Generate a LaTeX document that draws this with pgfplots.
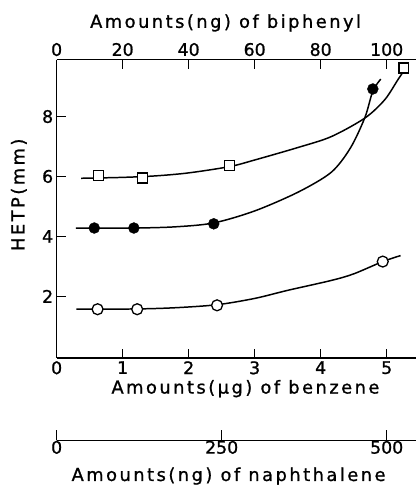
\documentclass[border=0pt]{standalone}
\usepackage{fontspec}
\setmainfont{DejaVu Sans}[FakeBold=1]
\newfontfamily\lsfont{DejaVu Sans}[LetterSpace=14, FakeBold=1]
\usepackage{pgfplots}
\pgfplotsset{compat=1.18}

\pgfplotsset{
  base/.style={scale only axis, width=362bp, clip=false,
    /pgf/number format/assume math mode=true,
    ticklabel style={font=\fontsize{17.5}{20}\selectfont},
    axis line style={line width=1.5bp},
    major tick style={line width=1.4bp, black},
    major tick length=9bp},
  curve/.style={black, line width=1.5bp, smooth, no marks},
}

\begin{document}
\begin{tikzpicture}
% benzene (bottom) and HETP axis
\begin{axis}[base, height=300bp, at={(0,0)}, anchor=south west,
  xmin=0, xmax=5.45, ymin=-0.05, ymax=9.9,
  axis x line*=bottom, axis y line*=left, tick align=inside,
  xtick={0,1,2,3,4,5}, ytick={2,4,6,8}]
% fitted curves
\addplot[curve] coordinates {
  (0.37,5.94)(1.0,5.97)(1.5,6.02)(2.0,6.12)(2.62,6.33)(3.0,6.55)
  (3.66,6.97)(4.16,7.33)(4.67,7.95)(4.97,8.56)(5.17,9.23)(5.32,9.72)};
\addplot[curve] coordinates {
  (0.29,4.28)(1.17,4.28)(1.8,4.32)(2.38,4.45)(3.0,4.85)(3.66,5.48)
  (4.16,6.14)(4.45,6.95)(4.67,7.97)(4.79,8.85)(4.91,9.25)};
\addplot[curve] coordinates {
  (0.30,1.57)(1.22,1.58)(1.8,1.62)(2.43,1.72)(3.0,1.93)(3.5,2.2)
  (4.16,2.53)(4.5,2.75)(4.94,3.16)(5.21,3.36)};
% measured points
\addplot[only marks, mark=square*, mark size=5bp, mark options={fill=white, draw=black, line width=1.3bp}]
  coordinates {(0.63,6.03)(1.30,5.95)(2.62,6.37)(5.26,9.62)};
\addplot[only marks, mark=*, mark size=5.5bp, mark options={fill=black, draw=black}]
  coordinates {(0.57,4.28)(1.17,4.28)(2.38,4.42)(4.79,8.92)};
\addplot[only marks, mark=*, mark size=5.5bp, mark options={fill=white, draw=black, line width=1.3bp}]
  coordinates {(0.62,1.57)(1.22,1.57)(2.43,1.70)(4.94,3.16)};
\end{axis}
% biphenyl (top) axis
\begin{axis}[base, height=300bp, at={(0,0)}, anchor=south west,
  xmin=0, xmax=109, ymin=0, ymax=1,
  axis x line*=top, hide y axis, tick align=inside,
  xtick={0,20,40,60,80,100}]
\end{axis}
% naphthalene axis
\begin{axis}[base, height=10bp, at={(0,-83bp)}, anchor=south west,
  xmin=0, xmax=545, ymin=0, ymax=1,
  axis x line*=bottom, hide y axis, tick align=inside,
  major tick length=10bp,
  xtick={0,250,500}, xticklabel style={yshift=3bp}]
\end{axis}
\begin{scope}[font=\lsfont\fontsize{18}{21}\selectfont]
\node[anchor=base] at (190bp,-36bp) {Amounts(µg) of benzene};
\node[anchor=base] at (170bp,332bp) {Amounts(ng) of biphenyl};
\node[anchor=base] at (173bp,-124bp) {Amounts(ng) of naphthalene};
\node[rotate=90] at (-38bp,164bp) {HETP(mm)};
\end{scope}
\path[use as bounding box] (-57bp,-128bp) rectangle (362bp,360bp);
\end{tikzpicture}
\end{document}
